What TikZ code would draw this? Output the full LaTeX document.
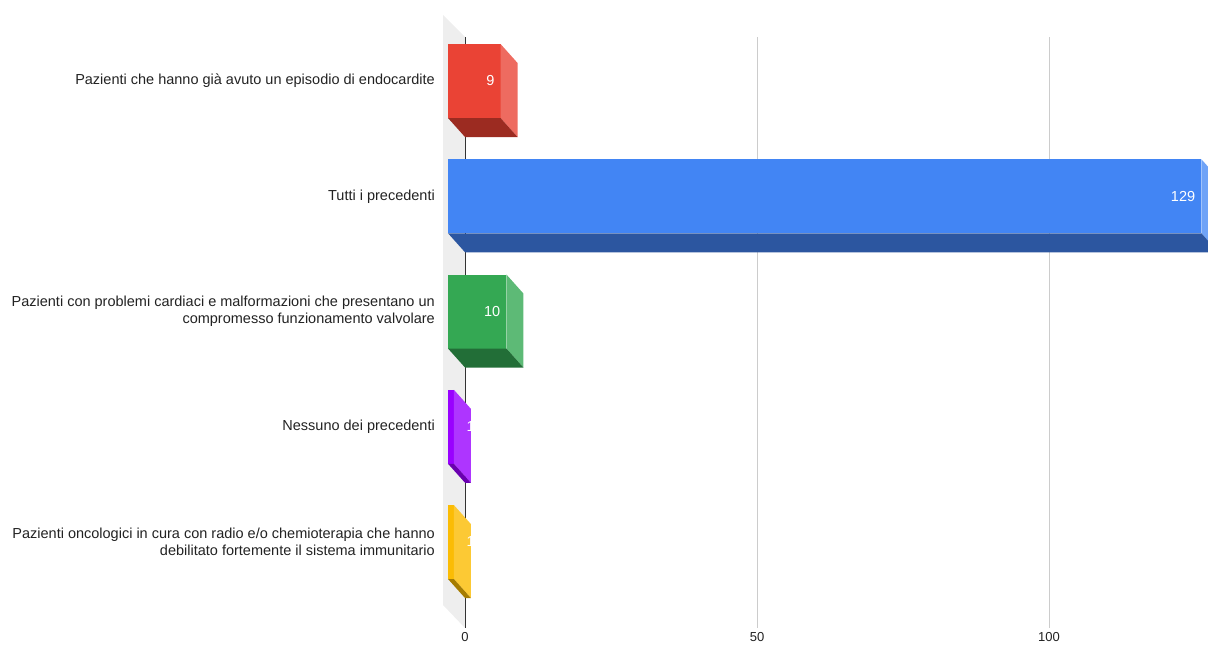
\documentclass[tikz,border=0pt]{standalone}
\usepackage{fontspec}
\setmainfont{Liberation Sans}
\definecolor{wallgray}{HTML}{EEEEEE}
\definecolor{gridgray}{HTML}{CCCCCC}
\definecolor{axisgray}{HTML}{333333}
\definecolor{txtgray}{HTML}{222222}
\definecolor{redF}{HTML}{EA4335}\definecolor{redS}{HTML}{EE6B60}\definecolor{redB}{HTML}{9C2B21}
\definecolor{bluF}{HTML}{4285F4}\definecolor{bluS}{HTML}{6FA3F7}\definecolor{bluB}{HTML}{2C56A0}
\definecolor{grnF}{HTML}{34A853}\definecolor{grnS}{HTML}{5DBA76}\definecolor{grnB}{HTML}{226E37}
\definecolor{vioF}{HTML}{9900FF}\definecolor{vioS}{HTML}{AE35FF}\definecolor{vioB}{HTML}{6A00B0}
\definecolor{yelF}{HTML}{FBBC04}\definecolor{yelS}{HTML}{FCC934}\definecolor{yelB}{HTML}{A67C00}
\tikzset{
  catlabel/.style={anchor=east, align=right, text=txtgray, font=\fontsize{14.5}{17}\selectfont, inner sep=0pt},
  vallabel/.style={anchor=east, text=white, font=\fontsize{14.5}{17}\selectfont, inner sep=0pt},
  ticklabel/.style={anchor=north, text=txtgray, font=\fontsize{13}{15}\selectfont, inner sep=0pt}
}
\begin{document}
\begin{tikzpicture}[x=1pt,y=-1pt]
    \useasboundingbox (0,0) rectangle (1208,645);
    \clip (0,0) rectangle (1208,645);
    % wall
    \fill [wallgray] (443,15) -- (465,37) -- (465,628) -- (443,605) -- cycle;
    % grid
    \draw [gridgray] (757,37) -- (757,628);
    \draw [gridgray] (1049,37) -- (1049,628);
    \draw [axisgray] (465,37) -- (465,628);
    % bars
    \foreach \v/\c/\lab [count=\i] in {9/red/{Pazienti che hanno già avuto un episodio di endocardite},
        129/blu/{Tutti i precedenti},
        10/grn/{Pazienti con problemi cardiaci e malformazioni che presentano un\\compromesso funzionamento valvolare},
        1/vio/{Nessuno dei precedenti},
        1/yel/{Pazienti oncologici in cura con radio e/o chemioterapia che hanno\\debilitato fortemente il sistema immunitario}} {
        \pgfmathsetmacro{\y}{44+115.25*(\i-1)}
        \pgfmathsetmacro{\w}{448+5.84*\v}
        \pgfmathsetmacro{\lx}{max(\w-6,475)}
        \fill [\c F] (448,\y) rectangle (\w,\y+74);
        \fill [\c S] (\w,\y) -- (\w+17,\y+19) -- (\w+17,\y+93) -- (\w,\y+74) -- cycle;
        \fill [\c B] (448,\y+74) -- (\w,\y+74) -- (\w+17,\y+93) -- (465,\y+93) -- cycle;
        \node [vallabel] (val\i) at (\lx,\y+37) {\v};
        \node [catlabel] (cat\i) at (435,\y+37) {\lab};
    }
    % axis
    \node [ticklabel] (t0) at (465,632) {0};
    \node [ticklabel] (t50) at (757,632) {50};
    \node [ticklabel] (t100) at (1049,632) {100};
\end{tikzpicture}
\end{document}
